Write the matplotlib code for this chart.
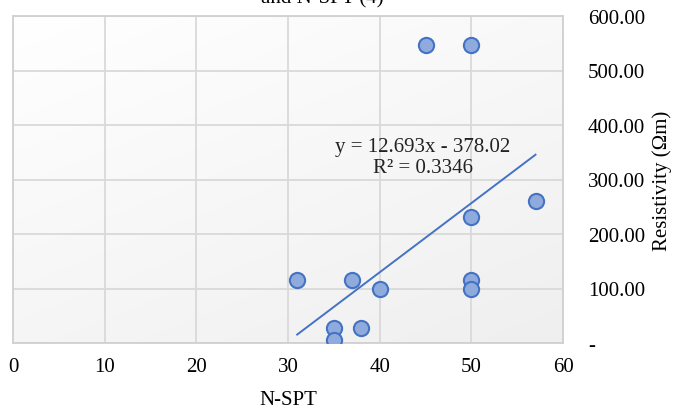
import matplotlib
matplotlib.use("Agg")
import matplotlib.pyplot as plt
import numpy as np
from matplotlib.ticker import FuncFormatter

# Data
nspt = [31, 35, 35, 37, 38, 40, 45, 50, 50, 50, 50, 57]
resistivity = [116, 27, 5, 116, 27, 100, 546, 546, 232, 116, 100, 260]
trend_slope = 12.693
trend_intercept = -378.02
r_squared = 0.3346
x_ticks = [0, 10, 20, 30, 40, 50, 60]
y_ticks = [0, 100, 200, 300, 400, 500, 600]

plt.rcParams['font.family'] = ['Liberation Serif', 'DejaVu Serif']
FS = 15

fig = plt.figure(figsize=(6.81, 4.10), dpi=100)
ax = fig.add_axes([13/681, 1 - 344/410, (563-13)/681, (344-17)/410])

# subtle gradient background
grad = np.linspace(0, 1, 256)
G = (grad[None, :] * 0.4 + grad[:, None] * 0.6)
ax.imshow(G, extent=[0, 60, 0, 600], aspect='auto', origin='upper',
          cmap=matplotlib.colors.LinearSegmentedColormap.from_list('g', ['#ffffff', '#efefef']),
          zorder=0)

ax.set_xlim(0, 60)
ax.set_ylim(0, 600)
ax.set_xticks(x_ticks)
ax.set_yticks(y_ticks)
ax.grid(True, color='#d9d9d9', linewidth=1.3, zorder=1)
for s in ax.spines.values():
    s.set_color('#d0d0d0')
    s.set_linewidth(1.3)

ax.scatter(nspt, resistivity, s=120, facecolor='#8faadc', edgecolor='#4472c4',
           linewidth=1.5, zorder=3)

xt = np.array([min(nspt), max(nspt)])
ax.plot(xt, trend_slope * xt + trend_intercept, color='#4472c4', linewidth=1.4, zorder=2)

ax.text(44.7, 361, f"y = {trend_slope}x - {abs(trend_intercept)}", ha='center', va='center',
        fontsize=FS, color='#222222')
ax.text(44.7, 322, f"R² = {r_squared}", ha='center', va='center', fontsize=FS, color='#222222')

ax.yaxis.tick_right()
ax.yaxis.set_label_position('right')
ax.yaxis.set_major_formatter(FuncFormatter(lambda v, p: '-' if v == 0 else f"{v:.2f}"))
ax.tick_params(axis='y', length=0, pad=18, labelsize=FS)
ax.tick_params(axis='x', length=0, pad=10, labelsize=FS)
for lbl in ax.get_yticklabels():
    lbl.set_horizontalalignment('left')

ax.set_xlabel('N-SPT', fontsize=FS, labelpad=10)
ax.set_ylabel('Resistivity (Ωm)', fontsize=FS, labelpad=5)

fig.text(322/681, 1 + 1/410, 'and N-SPT (4)', ha='center', va='center', fontsize=FS)

fig.savefig('out.png', dpi=100)
